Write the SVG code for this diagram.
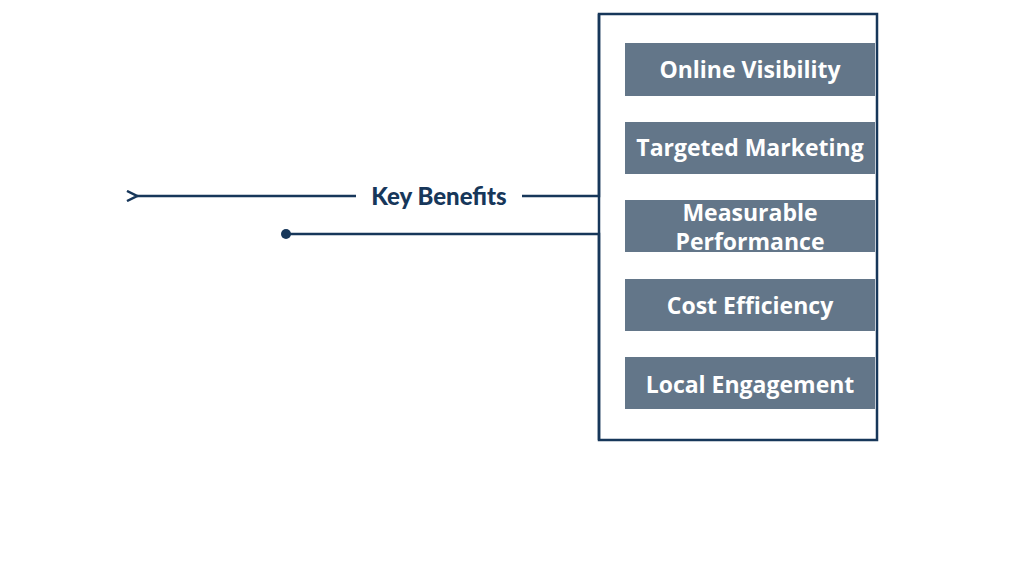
<svg xmlns="http://www.w3.org/2000/svg" width="1024" height="576" viewBox="0 0 1024 576">
<style>
.c{fill:none;stroke:#17375a;stroke-width:2.5}
.b{fill:#637689}
.t{fill:#fff;font-family:"Open Sans","Liberation Sans",sans-serif;font-weight:700;font-size:23px;text-anchor:middle}
.k{fill:#17375a;font-family:Lato,"Liberation Sans",sans-serif;font-weight:900;font-size:24px;text-anchor:middle}
</style>
<defs><marker id="a" viewBox="0 0 10 10" refX="1" refY="5" markerWidth="5" markerHeight="5" orient="auto"><path d="M9,1 L1,5 L9,9" fill="none" stroke="#17375a" stroke-width="2"/></marker></defs>
<rect width="1024" height="576" fill="#fff"/>
<g id="connectors">
<rect x="599" y="14" width="278" height="426" class="c"/>
<path class="c" d="M599,14 V196 H522"/>
<path class="c" d="M356,196 H137" marker-end="url(#a)"/>
<path class="c" d="M599,440 V234 H286"/>
<circle cx="286" cy="234" r="5" fill="#17375a"/>
</g>
<g id="key"><text class="k" x="439" y="205">Key Benefits</text></g>
<g id="n1"><rect class="b" x="625" y="43" width="250" height="53"/><text class="t" x="750" y="78">Online Visibility</text></g>
<g id="n2"><rect class="b" x="625" y="122" width="250" height="52"/><text class="t" x="750" y="156">Targeted Marketing</text></g>
<g id="n3"><rect class="b" x="625" y="200" width="250" height="52"/><text class="t" x="750" y="221">Measurable</text><text class="t" x="750" y="250">Performance</text></g>
<g id="n4"><rect class="b" x="625" y="279" width="250" height="52"/><text class="t" x="750" y="314">Cost Efficiency</text></g>
<g id="n5"><rect class="b" x="625" y="357" width="250" height="52"/><text class="t" x="750" y="393">Local Engagement</text></g>
</svg>
